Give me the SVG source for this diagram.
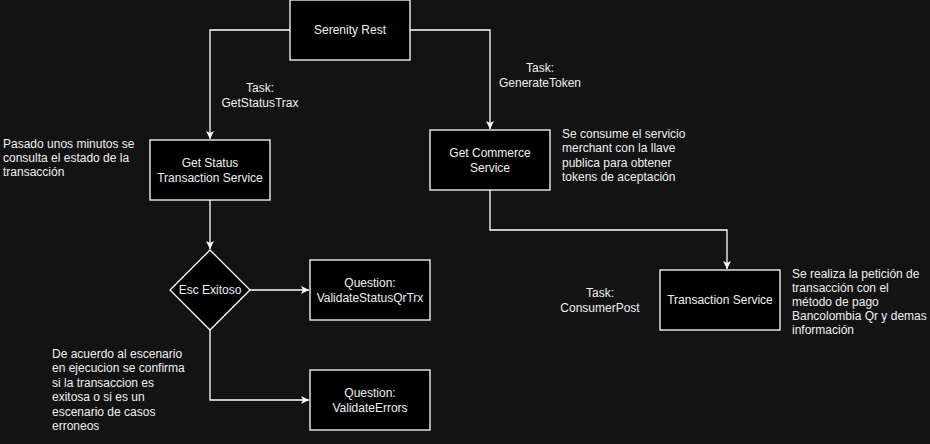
<svg xmlns="http://www.w3.org/2000/svg" width="930" height="444" viewBox="0 0 930 444">
<style>
.node{fill:#000;stroke:#fff;stroke-width:1.3}
.edge{fill:none;stroke:#fff;stroke-width:1.3}
text{font-family:"Liberation Sans",Arial,Helvetica,sans-serif;font-size:12px;fill:#f0f0f0}
.c{text-anchor:middle}
</style>
<defs>
<marker id="arr" markerWidth="10" markerHeight="10" refX="8" refY="4" orient="auto" markerUnits="userSpaceOnUse">
<path d="M0,0 L8,4 L0,8 L2,4 Z" fill="#fff"/>
</marker>
</defs>
<rect width="930" height="444" fill="#131313"/>
<g id="connectors">
<path class="edge" d="M290,30 H210 V139" marker-end="url(#arr)"/>
<path class="edge" d="M410,30 H490 V129" marker-end="url(#arr)"/>
<path class="edge" d="M210,200 V249" marker-end="url(#arr)"/>
<path class="edge" d="M250,290 H309" marker-end="url(#arr)"/>
<path class="edge" d="M210,330 V400 H309" marker-end="url(#arr)"/>
<path class="edge" d="M490,190 V230 H727 V269" marker-end="url(#arr)"/>
</g>
<g id="serenity-rest">
<rect class="node" x="290" y="0" width="120" height="60"/>
<text class="c" x="350" y="34">Serenity Rest</text>
</g>
<g id="get-status">
<rect class="node" x="150" y="140" width="120" height="60"/>
<text class="c" x="210" y="167">Get Status</text>
<text class="c" x="210" y="182">Transaction Service</text>
</g>
<g id="get-commerce">
<rect class="node" x="430" y="130" width="120" height="60"/>
<text class="c" x="490" y="157">Get Commerce</text>
<text class="c" x="490" y="172">Service</text>
</g>
<g id="esc-exitoso">
<polygon class="node" points="210,250 250,290 210,330 170,290"/>
<text class="c" x="210" y="294">Esc Exitoso</text>
</g>
<g id="validate-status">
<rect class="node" x="310" y="260" width="120" height="60"/>
<text class="c" x="370" y="287">Question:</text>
<text class="c" x="370" y="302">ValidateStatusQrTrx</text>
</g>
<g id="validate-errors">
<rect class="node" x="310" y="370" width="120" height="60"/>
<text class="c" x="370" y="397">Question:</text>
<text class="c" x="370" y="412">ValidateErrors</text>
</g>
<g id="transaction-service">
<rect class="node" x="660" y="270" width="120" height="60"/>
<text class="c" x="720" y="304">Transaction Service</text>
</g>
<g id="labels">
<text class="c" x="260" y="92">Task:</text>
<text class="c" x="260" y="107">GetStatusTrax</text>
<text class="c" x="540" y="72">Task:</text>
<text class="c" x="540" y="87">GenerateToken</text>
<text class="c" x="600" y="297">Task:</text>
<text class="c" x="600" y="312">ConsumerPost</text>
<text x="3" y="148">Pasado unos minutos se</text>
<text x="3" y="162">consulta el estado de la</text>
<text x="3" y="176">transacción</text>
<text x="562" y="138">Se consume el servicio</text>
<text x="562" y="152">merchant con la llave</text>
<text x="562" y="167">publica para obtener</text>
<text x="562" y="181">tokens de aceptación</text>
<text x="792" y="278">Se realiza la petición de</text>
<text x="792" y="292">transacción con el</text>
<text x="792" y="306">método de pago</text>
<text x="792" y="320">Bancolombia Qr y demas</text>
<text x="792" y="334">información</text>
<text x="52" y="358">De acuerdo al escenario</text>
<text x="52" y="372">en ejecucion se confirma</text>
<text x="52" y="387">si la transaccion es</text>
<text x="52" y="401">exitosa o si es un</text>
<text x="52" y="416">escenario de casos</text>
<text x="52" y="430">erroneos</text>
</g>
</svg>
